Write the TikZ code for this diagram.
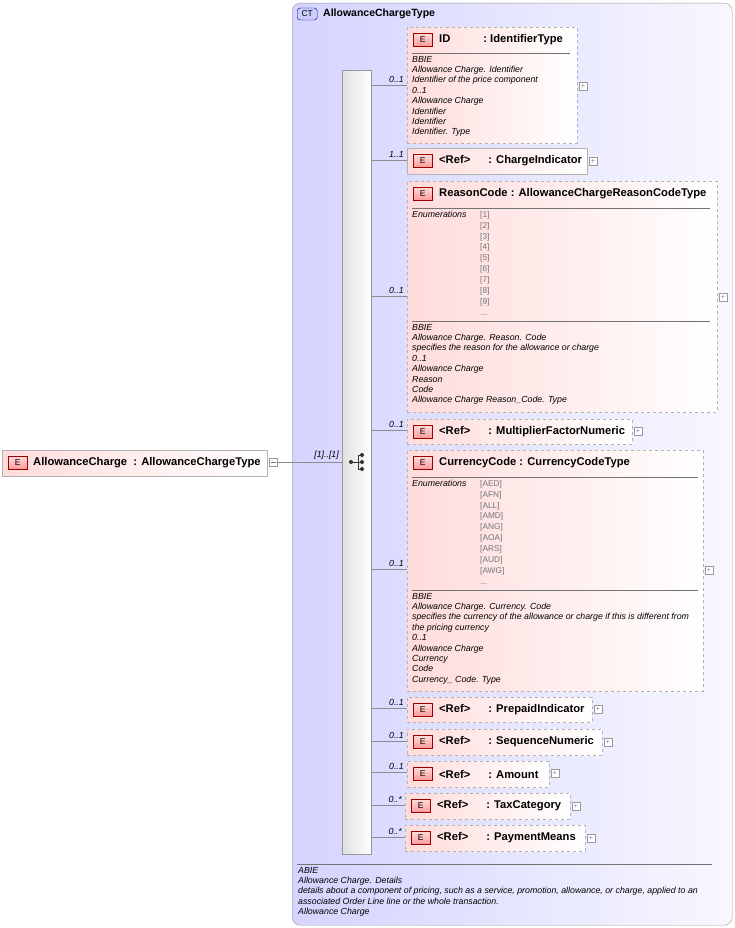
\documentclass[tikz,border=0pt]{standalone}
\usepackage{fontspec}
\setmainfont{Liberation Sans}
\begin{document}
\begin{tikzpicture}[x=1pt,y=-1pt,
  bx/.style={draw=black!30,left color=red!14,right color=white,inner sep=0pt,anchor=north west},
  dbx/.style={bx,dashed},
  eb/.style={draw=red!60!black,top color=red!15,bottom color=red!40,minimum width=19pt,minimum height=13pt,inner sep=0pt,font=\fontsize{8.5}{9}\selectfont,anchor=west},
  hd/.style={font=\fontsize{11.2}{12}\bfseries\selectfont,anchor=west,inner sep=0pt},
  it/.style={font=\fontsize{8.8}{10.35}\itshape\selectfont,anchor=north west,inner sep=0pt,align=left},
  en/.style={font=\fontsize{8.3}{10.9}\selectfont,text=black!55,anchor=north west,inner sep=0pt,align=left},
  ml/.style={font=\fontsize{8.8}{10}\itshape\selectfont,anchor=south east,inner sep=1pt},
  pl/.style={draw=black!40,fill=white,minimum size=8pt,inner sep=0pt,font=\fontsize{7}{7}\selectfont,text=black!50},
  sep/.style={draw=black!55,line width=0.5pt},
  cn/.style={draw=black!45,line width=0.5pt}]
\useasboundingbox (0,0) rectangle (735,928);
% outer complex type
\node[draw=black!40,rounded corners=8pt,left color=blue!17,right color=blue!3,minimum width=440pt,minimum height=922pt,anchor=north west,inner sep=0pt] (ct) at (292,3) {};
\node[draw=blue!50!black,fill=blue!20,rounded corners=3pt,minimum width=20pt,minimum height=12pt,inner sep=0pt,font=\fontsize{8.5}{9}\selectfont,anchor=west] (ctb) at (297,14) {CT};
\node[hd,font=\fontsize{10.5}{12}\bfseries\selectfont] (ctt) at (323,14) {AllowanceChargeType};
% root element
\node[bx,minimum width=265pt,minimum height=26pt] (root) at (2,450) {};
\node[eb] (rootE) at (8,463) {E};
\node[hd] (rootT) at (33,463) {AllowanceCharge\ \ : AllowanceChargeType};
\node[pl] (rootP) at (273,462) {};
\draw[black!50] (270.5,462) -- (275.5,462);
% sequence bar
\node[draw=black!40,left color=black!12,right color=white,minimum width=29pt,minimum height=784pt,anchor=north west,inner sep=0pt] (seq) at (342,70) {};
\coordinate (seqIn) at (342,462);
\draw[cn] (rootP.east) -- (seqIn);
\node[ml] (rootM) at (340,461) {[1]..[1]};
% sequence icon
\node[inner sep=0pt] (seqI) at (357,462) {};
\draw[line width=0.8pt,black!80] (351,462) -- (358,462) (358,455) -- (358,469) (358,455) -- (362,455) (358,469) -- (362,469) (358,462) -- (362,462);
\fill[black!80] (351,462) circle[radius=2] (362,455) circle[radius=2] (362,462) circle[radius=2] (362,469) circle[radius=2];
% children
\newcommand{\child}[9]{%
  \node[#6,minimum width=#4pt,minimum height=#5pt] (#1) at (#2,#3) {};
  \node[eb] (#1E) at ([shift={(6,13)}]#2,#3) {E};
  \node[hd] (#1T) at ([shift={(32,13)}]#2,#3) {#9};
  \coordinate (#1C) at (#2,#7);
  \draw[cn] (seq.east |- #1C) -- (#1C);
  \node[ml] (#1M) at ([shift={(-2,-1)}]#1C) {#8};
  \node[pl] (#1P) at ([shift={(#4+6,1)}]#2,#7) {+};
}
\child{id}{407}{27}{170}{116}{dbx}{85}{0..1}{ID\hspace{33pt}: IdentifierType}
\child{ci}{407}{148}{180}{26}{bx}{160}{1..1}{<Ref>\hspace{18pt}: ChargeIndicator}
\child{rc}{407}{181}{310}{231}{dbx}{296}{0..1}{ReasonCode : AllowanceChargeReasonCodeType}
\child{mf}{407}{419}{225}{25}{dbx}{430}{0..1}{<Ref>\hspace{18pt}: MultiplierFactorNumeric}
\child{cc}{407}{450}{296}{241}{dbx}{569}{0..1}{CurrencyCode : CurrencyCodeType}
\child{pi}{407}{697}{185}{25}{dbx}{708}{0..1}{<Ref>\hspace{18pt}: PrepaidIndicator}
\child{sn}{407}{729}{195}{26}{dbx}{741}{0..1}{<Ref>\hspace{18pt}: SequenceNumeric}
\child{am}{407}{761}{142}{26}{dbx}{772}{0..1}{<Ref>\hspace{18pt}: Amount}
\child{tc}{405}{793}{165}{26}{dbx}{805}{0..*}{<Ref>\hspace{18pt}: TaxCategory}
\child{pm}{405}{825}{180}{26}{dbx}{837}{0..*}{<Ref>\hspace{18pt}: PaymentMeans}
% ID details
\draw[sep] (412,53) -- (570,53);
\node[it] (idD) at (412,56) {BBIE\\Allowance Charge. Identifier\\Identifier of the price component\\0..1\\Allowance Charge\\Identifier\\Identifier\\Identifier. Type};
% ReasonCode details
\draw[sep] (412,208) -- (710,208);
\node[it] (rcEl) at (412,211) {Enumerations};
\node[en] (rcEv) at (480,211) {{[1]}\\{}[2]\\{}[3]\\{}[4]\\{}[5]\\{}[6]\\{}[7]\\{}[8]\\{}[9]\\...};
\draw[sep] (412,321) -- (710,321);
\node[it] (rcD) at (412,324) {BBIE\\Allowance Charge. Reason. Code\\specifies the reason for the allowance or charge\\0..1\\Allowance Charge\\Reason\\Code\\Allowance Charge Reason\_Code. Type};
% CurrencyCode details
\draw[sep] (412,477) -- (698,477);
\node[it] (ccEl) at (412,480) {Enumerations};
\node[en] (ccEv) at (480,480) {{[AED]}\\{}[AFN]\\{}[ALL]\\{}[AMD]\\{}[ANG]\\{}[AOA]\\{}[ARS]\\{}[AUD]\\{}[AWG]\\...};
\draw[sep] (412,590) -- (698,590);
\node[it] (ccD) at (412,593) {BBIE\\Allowance Charge. Currency. Code\\specifies the currency of the allowance or charge if this is different from\\the pricing currency\\0..1\\Allowance Charge\\Currency\\Code\\Currency\_ Code. Type};
% footer
\draw[sep] (297,864) -- (712,864);
\node[it] (ctD) at (298,867) {ABIE\\Allowance Charge. Details\\details about a component of pricing, such as a service, promotion, allowance, or charge, applied to an\\associated Order Line line or the whole transaction.\\Allowance Charge};
\end{tikzpicture}
\end{document}
